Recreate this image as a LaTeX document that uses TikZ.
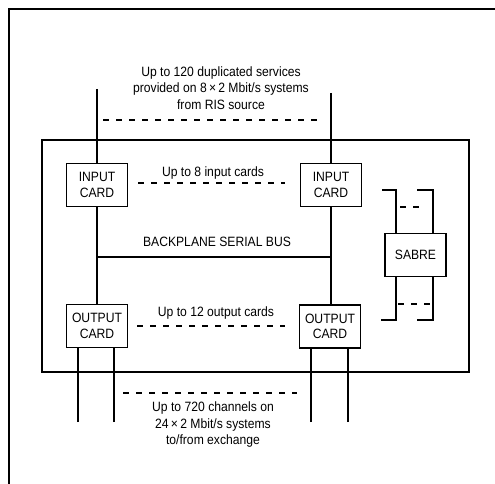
\documentclass[tikz,border=0pt]{standalone}
\usepackage{fontspec}
\setmainfont{Liberation Sans}[FakeStretch=0.9]
\usetikzlibrary{positioning}

\begin{document}
\begin{tikzpicture}[x=1pt,y=-1pt,line width=1.1pt,
  card/.style={draw,minimum width=61pt,minimum height=43pt,inner sep=1pt,align=center,font=\fontsize{13.5}{15.5}\selectfont},
  txt/.style={align=center,inner sep=0pt,font=\fontsize{13.5}{16.5}\selectfont},
  dots/.style={dash pattern=on 6pt off 7pt}]
\path[use as bounding box] (0,0) rectangle (495,484);
\draw (495,9) -- (9,9) -- (9,484);
\draw (42,140) rectangle (469,372);
\node[card] (inL) at (97,185) {INPUT\\CARD};
\node[card] (inR) at (331,185) {INPUT\\CARD};
\node[card] (outL) at (97,326) {OUTPUT\\CARD};
\node[card] (outR) at (330,326.5) {OUTPUT\\CARD};
\node[card] (sabre) at (415.5,255) {SABRE};
\coordinate (feedL) at (97,89);
\coordinate (feedR) at (331,93);
\draw (feedL) -- (inL);
\draw (feedR) -- (inR);
\draw (inL) -- (outL);
\draw (inR) -- (outR.north -| inR);
\coordinate (busL) at (97,257);
\coordinate (busR) at (331,257);
\draw (busL) -- (busR);
\coordinate (exL1) at (78,422);
\coordinate (exL2) at (114,422);
\coordinate (exR1) at (311,422);
\coordinate (exR2) at (348,422);
\draw (exL1) -- (exL1 |- outL.south);
\draw (exL2) -- (exL2 |- outL.south);
\draw (exR1) -- (exR1 |- outR.south);
\draw (exR2) -- (exR2 |- outR.south);
\coordinate (sabA) at (382,190);
\coordinate (sabB) at (417,190);
\coordinate (sabC) at (381,320);
\coordinate (sabD) at (417,320);
\draw (sabA) -| ([xshift=-19.5pt]sabre.north);
\draw (sabB) -| ([xshift=17.5pt]sabre.north);
\draw (sabC) -| ([xshift=-19.5pt]sabre.south);
\draw (sabD) -| ([xshift=17.5pt]sabre.south);
\draw[dots] (103,120) -- (322,120);
\draw[dots] (138,183) -- (285,183);
\draw[dots] (137,326) -- (285,326);
\draw[dots] (123,393) -- (297,393);
\draw[dots] (400,207) -- (422,207);
\draw[dots] (398,304) -- (432,304);
\node[txt] (srcText) at (221,88) {Up to 120 duplicated services\\provided on 8\,×\,2 Mbit/s systems\\from RIS source};
\node[txt] (inText) at (213,173) {Up to 8 input cards};
\node[txt] (busText) at (217,242) {BACKPLANE SERIAL BUS};
\node[txt] (outText) at (216,313) {Up to 12 output cards};
\node[txt] (exText) at (213,425) {Up to 720 channels on\\24\,×\,2 Mbit/s systems\\to/from exchange};
\end{tikzpicture}
\end{document}
